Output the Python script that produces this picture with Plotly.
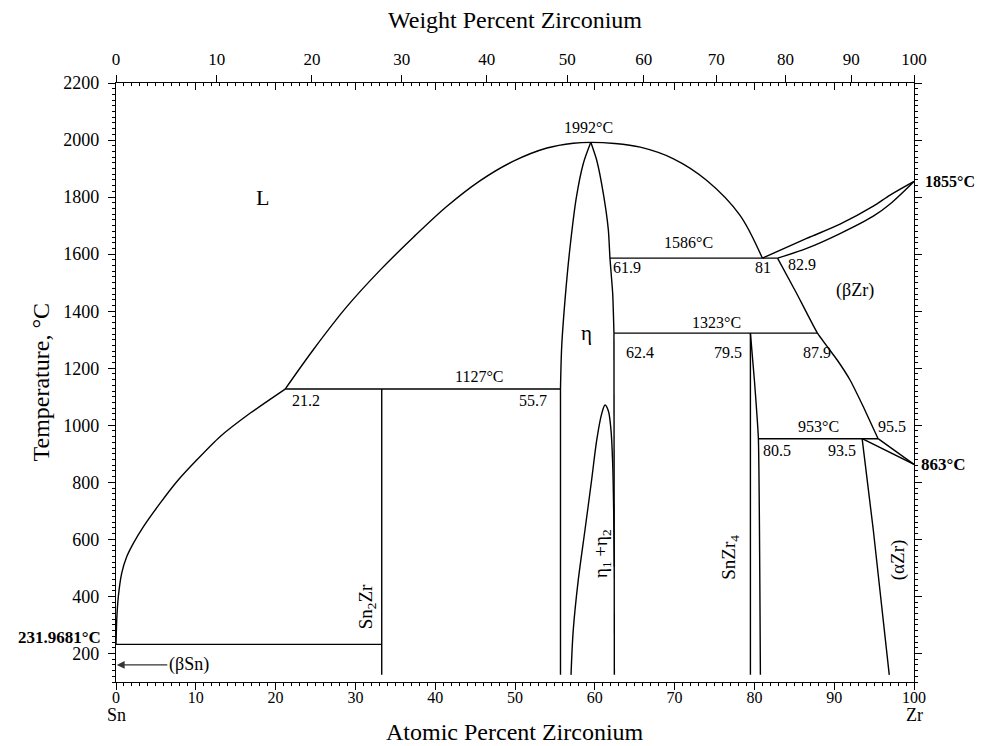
import plotly.graph_objects as go

# ---------------- data (atomic % Zr, temperature °C) ----------------
T_BOTTOM = 125

liq_sn_x = [0, 0.09, 0.29, 0.71, 1.34, 2.17, 3.42, 5.51, 7.61, 10.11, 13.03, 16.79, 21.2]
liq_sn_T = [232, 317, 399, 481, 539, 586, 644, 726, 802, 878, 960, 1042, 1127]

liq_mid_x = [21.2, 24.7, 28.9, 33.1, 37.3, 41.4, 45.6, 49.8, 54.0, 57.3, 59.5,
             62.5, 65.7, 69.8, 74.0, 78.2, 81.0]
liq_mid_T = [1127, 1264, 1415, 1544, 1660, 1766, 1857, 1926, 1972, 1989, 1992,
             1988, 1975, 1935, 1859, 1736, 1586]

eta_left_x = [59.5, 58.56, 57.7, 56.9, 56.3, 55.85, 55.7]
eta_left_T = [1992, 1918, 1801, 1625, 1450, 1275, 1127]

eta_right_x = [59.5, 60.24, 61.07, 61.7, 61.9, 62.24, 62.4]
eta_right_T = [1992, 1929, 1812, 1684, 1586, 1462, 1323]

eta_left_low_x = [55.7, 55.7]
eta_left_low_T = [1127, T_BOTTOM]
eta_right_low_x = [62.4, 62.45, 62.45]
eta_right_low_T = [1323, 900, T_BOTTOM]

dome_x = [57.02, 57.3, 57.93, 58.77, 59.6, 60.24, 60.86, 61.28, 61.7, 62.03, 62.24, 62.37, 62.45]
dome_T = [T_BOTTOM, 282, 458, 633, 808, 948, 1040, 1071, 1050, 983, 866, 692, 504]

bzr_liq_x = [81.0, 86.55, 90.73, 94.9, 97.0, 100]
bzr_liq_T = [1586, 1655, 1705, 1768, 1807, 1855]

bzr_sol_x = [82.9, 86.55, 90.73, 94.9, 97.0, 100]
bzr_sol_T = [1586, 1620, 1672, 1733, 1776, 1855]

bzr_solvus_x = [82.9, 85.3, 87.9, 90.4, 92.0, 93.65, 95.5]
bzr_solvus_T = [1586, 1462, 1323, 1228, 1158, 1065, 953]

snzr4_left_x = [79.5, 79.5]
snzr4_left_T = [1323, T_BOTTOM]
snzr4_right_x = [79.5, 80.0, 80.5, 80.75]
snzr4_right_T = [1323, 1158, 953, T_BOTTOM]

azr_x = [93.5, 94.9, 96.9]
azr_T = [953, 633, T_BOTTOM]

eutectoid_a_x = [93.5, 100]
eutectoid_a_T = [953, 863]
eutectoid_b_x = [95.5, 100]
eutectoid_b_T = [953, 863]

sn2zr_x = [33.3, 33.3]
sn2zr_T = [1127, T_BOTTOM]

# isotherms: (x_start, x_end, T)
iso_x0 = [0, 21.2, 61.9, 62.4, 80.5]
iso_x1 = [33.3, 55.7, 82.9, 87.9, 95.5]
iso_T = [231.9681, 1127, 1586, 1323, 953]

# axis ticks
at_ticks = list(range(0, 101, 10))
wt_ticks = list(range(0, 101, 10))
T_ticks = list(range(200, 2201, 200))
M_SN, M_ZR = 118.71, 91.224

# labels (text, x, T, size, angle)
labels = [
    ("1992°C", 59.2, 2045, 16, 0),
    ("L", 18.4, 1799, 22, 0),
    ("1586°C", 71.7, 1642, 16, 0),
    ("61.9", 64.0, 1554, 16, 0),
    ("81", 81.1, 1554, 16, 0),
    ("82.9", 86.0, 1565, 16, 0),
    ("(βZr)", 92.6, 1473, 18, 0),
    ("η", 58.9, 1323, 21, 0),
    ("1323°C", 75.3, 1361, 16, 0),
    ("62.4", 65.7, 1256, 16, 0),
    ("79.5", 76.7, 1256, 16, 0),
    ("87.9", 87.9, 1256, 16, 0),
    ("1127°C", 45.5, 1172, 16, 0),
    ("21.2", 23.8, 1088, 16, 0),
    ("55.7", 52.3, 1088, 16, 0),
    ("953°C", 88.0, 997, 16, 0),
    ("95.5", 97.2, 997, 16, 0),
    ("80.5", 82.8, 913, 16, 0),
    ("93.5", 91.0, 913, 16, 0),
    ("Sn<sub>2</sub>Zr", 31.5, 363, 19, -90),
    ("η<sub>1</sub> +η<sub>2</sub>", 60.9, 552, 19, -90),
    ("SnZr<sub>4</sub>", 76.9, 538, 19, -90),
    ("(αZr)", 98.0, 527, 19, -90),
]

FONT = "Liberation Serif, Times New Roman, serif"
LINE = dict(color="black", width=1.4)

fig = go.Figure()

curves = [
    (liq_sn_x, liq_sn_T, 0.6), (liq_mid_x, liq_mid_T, 0.9),
    (eta_left_x, eta_left_T, 0.8), (eta_right_x, eta_right_T, 0.6),
    (dome_x, dome_T, 0.9), (bzr_liq_x, bzr_liq_T, 0.8), (bzr_sol_x, bzr_sol_T, 0.9),
    (bzr_solvus_x, bzr_solvus_T, 0.4), (snzr4_right_x, snzr4_right_T, 0.4),
    (azr_x, azr_T, 0.6),
]
for cx, cy, sm in curves:
    fig.add_trace(go.Scatter(x=cx, y=cy, mode="lines", line=dict(LINE, shape="spline", smoothing=sm),
                             hoverinfo="skip", showlegend=False))

straight = [(snzr4_left_x, snzr4_left_T), (eutectoid_a_x, eutectoid_a_T),
            (eutectoid_b_x, eutectoid_b_T), (sn2zr_x, sn2zr_T),
            (eta_left_low_x, eta_left_low_T), (eta_right_low_x, eta_right_low_T)]
for cx, cy in straight:
    fig.add_trace(go.Scatter(x=cx, y=cy, mode="lines", line=LINE, hoverinfo="skip", showlegend=False))

for x0, x1, t in zip(iso_x0, iso_x1, iso_T):
    fig.add_trace(go.Scatter(x=[x0, x1], y=[t, t], mode="lines", line=LINE,
                             hoverinfo="skip", showlegend=False))

# top axis positions for weight-percent ticks
wt_pos = [(w / M_ZR) / (w / M_ZR + (100 - w) / M_SN) * 100 for w in wt_ticks]

# invisible traces to activate overlay axes
fig.add_trace(go.Scatter(x=[0], y=[100], xaxis="x2", yaxis="y", mode="markers",
                         marker=dict(opacity=0), hoverinfo="skip", showlegend=False))
fig.add_trace(go.Scatter(x=[0], y=[100], xaxis="x3", yaxis="y2", mode="markers",
                         marker=dict(opacity=0), hoverinfo="skip", showlegend=False))

for text, lx, ly, size, ang in labels:
    fig.add_annotation(x=lx, y=ly, text=text, showarrow=False, textangle=ang,
                       font=dict(family=FONT, size=size, color="black"))

# bold side labels
fig.add_annotation(x=0, y=256, text="<b>231.9681°C</b>", showarrow=False, xanchor="right",
                   xshift=-13, font=dict(family=FONT, size=17, color="black"))
fig.add_annotation(x=100, y=1855, text="<b>1855°C</b>", showarrow=False, xanchor="left",
                   xshift=9, font=dict(family=FONT, size=16, color="black"))
fig.add_annotation(x=100, y=863, text="<b>863°C</b>", showarrow=False, xanchor="left",
                   xshift=5, font=dict(family=FONT, size=17, color="black"))
# βSn arrow
fig.add_annotation(x=0.1, y=160, ax=72, ay=0, text="(βSn)", showarrow=True, arrowhead=2,
                   arrowsize=1.3, arrowwidth=1.2, arrowcolor="#333",
                   font=dict(family=FONT, size=18, color="black"))
# element labels
fig.add_annotation(x=0, y=0, yref="paper", yanchor="middle", yshift=-33, text="Sn", showarrow=False,
                   font=dict(family=FONT, size=18, color="black"))
fig.add_annotation(x=100, y=0, yref="paper", yanchor="middle", yshift=-33, text="Zr", showarrow=False,
                   font=dict(family=FONT, size=18, color="black"))

# axis titles
TITLE_FONT = dict(family=FONT, size=24, color="black")
fig.add_annotation(x=0.5, y=0, xref="paper", yref="paper", yanchor="middle", yshift=-50,
                   text="Atomic Percent Zirconium", showarrow=False, font=TITLE_FONT)
fig.add_annotation(x=0.5, y=1, xref="paper", yref="paper", yanchor="middle", yshift=63,
                   text="Weight Percent Zirconium", showarrow=False, font=TITLE_FONT)
fig.add_annotation(x=0, y=0.5, xref="paper", yref="paper", xanchor="center", xshift=-76,
                   text="Temperature, °C", textangle=-90, showarrow=False, font=TITLE_FONT)

common = dict(showgrid=False, zeroline=False, automargin=False, tickcolor="black", tickwidth=1.2)
fig.update_layout(
    width=983, height=746,
    margin=dict(l=116, r=69, t=83, b=64),
    plot_bgcolor="white", paper_bgcolor="white",
    font=dict(family=FONT, color="black"),
    xaxis=dict(common, range=[0, 100], tickvals=at_ticks, ticks="outside", ticklen=7,
               showline=True, linecolor="black", linewidth=1.3, ticklabelstandoff=-6,
               tickfont=dict(family=FONT, size=16, color="black"),
               minor=dict(ticks="outside", dtick=1, ticklen=3, tickcolor="black", showgrid=False)),
    xaxis2=dict(common, overlaying="x", side="top", range=[0, 100], tickmode="array",
                tickvals=wt_pos, ticktext=[str(w) for w in wt_ticks], ticks="outside",
                ticklen=7, showline=True, linecolor="black", linewidth=1.3, ticklabelstandoff=3,
                tickfont=dict(family=FONT, size=17, color="black")),
    xaxis3=dict(common, overlaying="x", side="top", range=[0, 100], tickvals=at_ticks, ticks="inside",
                ticklen=7, showticklabels=False, showline=False,
                minor=dict(ticks="inside", dtick=1, ticklen=3, tickcolor="black", showgrid=False)),
    yaxis=dict(common, range=[100, 2200], tickvals=T_ticks, ticks="outside", ticklen=7,
               showline=True, linecolor="black", linewidth=1.3, ticklabelstandoff=5,
               tickfont=dict(family=FONT, size=18, color="black"),
               minor=dict(ticks="outside", dtick=20, tick0=100, ticklen=3, tickcolor="black", showgrid=False)),
    yaxis2=dict(common, overlaying="y", side="right", range=[100, 2200], tickvals=T_ticks, ticks="outside",
                ticklen=7, showticklabels=False, showline=True, linecolor="black", linewidth=1.3,
                minor=dict(ticks="outside", dtick=20, tick0=100, ticklen=3, tickcolor="black", showgrid=False)),
)

# remove the page's default body margin so the 983x746 figure fills the window exactly
fig.write_html("out.html", config={"displayModeBar": False},
               post_script="document.body.style.margin='0px';")
